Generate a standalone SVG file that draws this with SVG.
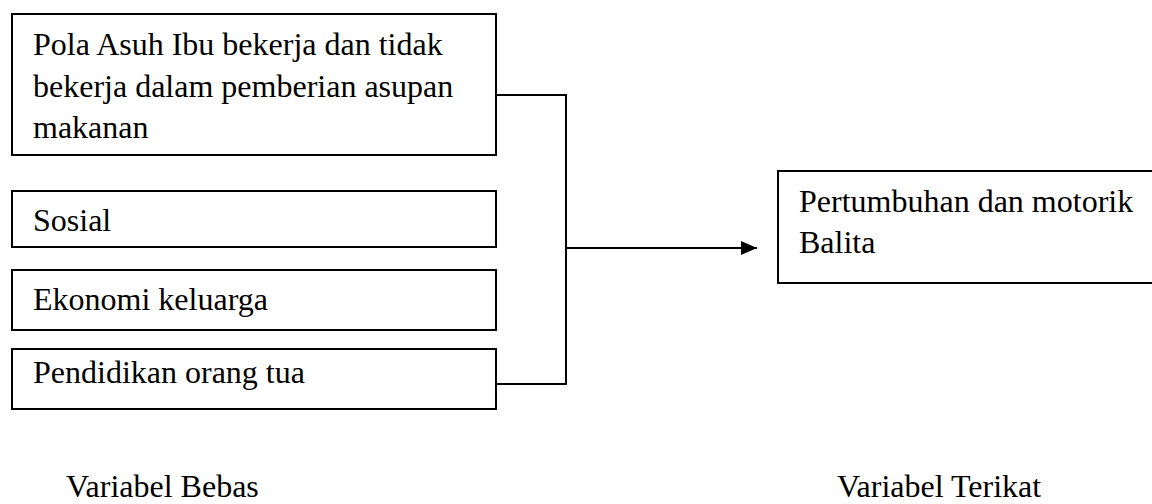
<svg xmlns="http://www.w3.org/2000/svg" width="1152" height="504" viewBox="0 0 1152 504">
<style>
.box{fill:#fff;stroke:#000;stroke-width:2}
.t{font-family:"Liberation Serif","Times New Roman",serif;font-size:32px;fill:#000}
.c{fill:none;stroke:#000;stroke-width:2}
</style>
<defs>
<marker id="arr" markerWidth="16" markerHeight="14" refX="16" refY="7" orient="auto" markerUnits="userSpaceOnUse">
<path d="M0,0 L16,7 L0,14 Z" fill="#000"/>
</marker>
</defs>
<rect width="1152" height="504" fill="#fff"/>
<g id="node-pola">
<rect class="box" x="12" y="14" width="484" height="141"/>
<text class="t" x="33" y="55">Pola Asuh Ibu bekerja dan tidak</text>
<text class="t" x="33" y="97">bekerja dalam pemberian asupan</text>
<text class="t" x="33" y="138">makanan</text>
</g>
<g id="node-sosial">
<rect class="box" x="12" y="191" width="484" height="56"/>
<text class="t" x="33" y="231">Sosial</text>
</g>
<g id="node-ekonomi">
<rect class="box" x="12" y="270" width="484" height="60"/>
<text class="t" x="33" y="310">Ekonomi keluarga</text>
</g>
<g id="node-pendidikan">
<rect class="box" x="12" y="349" width="484" height="60"/>
<text class="t" x="33" y="383">Pendidikan orang tua</text>
</g>
<g id="node-pertumbuhan">
<rect class="box" x="778" y="171" width="400" height="112"/>
<text class="t" x="799" y="212">Pertumbuhan dan motorik</text>
<text class="t" x="799" y="253">Balita</text>
</g>
<g id="connectors">
<path class="c" d="M496,95 H566 V384 H496"/>
<path class="c" d="M566,248 H757" marker-end="url(#arr)"/>
</g>
<g id="labels">
<text class="t" x="66" y="497">Variabel Bebas</text>
<text class="t" x="837" y="497">Variabel Terikat</text>
</g>
</svg>
